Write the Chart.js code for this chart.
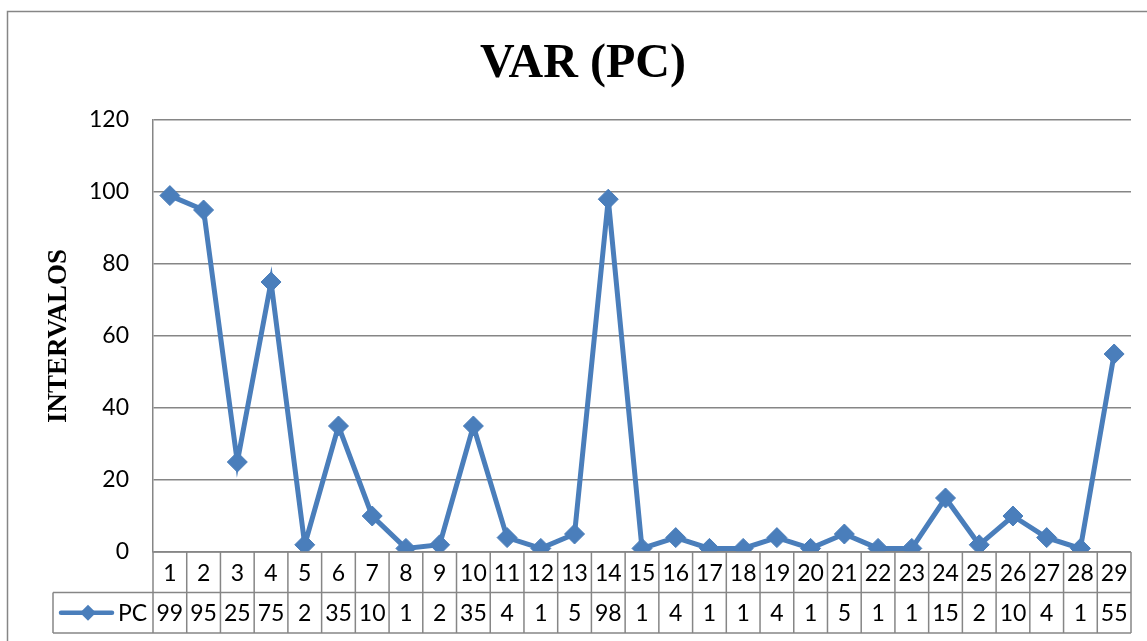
<!DOCTYPE html>
<html>
<head>
<meta charset="utf-8">
<script src="https://cdn.jsdelivr.net/npm/chart.js@4/dist/chart.umd.min.js"></script>
<style>
  html, body { margin: 0; padding: 0; background: #fff; }
  #wrap { width: 1147px; height: 641px; }
</style>
</head>
<body>
<div id="wrap"><canvas id="varChart" width="1147" height="641"></canvas></div>
<script>
// data
const categories = ['1','2','3','4','5','6','7','8','9','10','11','12','13','14','15',
  '16','17','18','19','20','21','22','23','24','25','26','27','28','29'];
const pcValues = [99, 95, 25, 75, 2, 35, 10, 1, 2, 35, 4, 1, 5, 98, 1,
  4, 1, 1, 4, 1, 5, 1, 1, 15, 2, 10, 4, 1, 55];
const seriesName = 'PC';
const chartTitle = 'VAR (PC)';
const yAxisTitle = 'INTERVALOS';
const yTicks = [0, 20, 40, 60, 80, 100, 120];

const lineBlue = '#4A7EBB';
const gridGray = '#868686';
const tickFont = { family: 'Lato', size: 23 };

// outer frame + title (title centred like the original, a bit right of the canvas middle)
const framePlugin = {
  id: 'frame',
  beforeDraw(chart) {
    const ctx = chart.ctx;
    ctx.save();
    ctx.fillStyle = '#fff';
    ctx.fillRect(0, 0, chart.width, chart.height);
    ctx.strokeStyle = gridGray;
    ctx.lineWidth = 1.5;
    ctx.strokeRect(7.5, 11.5, chart.width + 20, chart.height + 20);
    ctx.restore();
  },
  afterDraw(chart) {
    const ctx = chart.ctx;
    ctx.save();
    ctx.fillStyle = '#000';
    ctx.font = 'bold 48px "Liberation Serif"';
    ctx.textAlign = 'center';
    ctx.textBaseline = 'alphabetic';
    ctx.fillText(chartTitle, 583, 77);
    ctx.restore();
  }
};

// data table under the plot, like Excel's
const tablePlugin = {
  id: 'dataTable',
  afterDraw(chart) {
    const ctx = chart.ctx;
    const xs = chart.scales.x;
    const area = chart.chartArea;
    const cellW = (area.right - area.left) / categories.length;
    const rowH = 40.5;
    const y0 = area.bottom;
    const y1 = y0 + rowH;
    const y2 = y1 + rowH;
    const legendLeft = 53;

    ctx.save();
    ctx.strokeStyle = gridGray;
    ctx.lineWidth = 1.5;
    ctx.beginPath();
    ctx.moveTo(area.left, y0); ctx.lineTo(area.right, y0);
    ctx.moveTo(legendLeft, y1); ctx.lineTo(area.right, y1);
    ctx.moveTo(legendLeft, y2); ctx.lineTo(area.right, y2);
    ctx.moveTo(legendLeft, y1); ctx.lineTo(legendLeft, y2);
    for (let i = 0; i <= categories.length; i++) {
      const x = area.left + i * cellW;
      ctx.moveTo(x, y0); ctx.lineTo(x, y2);
    }
    ctx.stroke();

    ctx.fillStyle = '#000';
    ctx.font = '23px Lato';
    ctx.textAlign = 'center';
    ctx.textBaseline = 'middle';
    categories.forEach((c, i) => {
      const x = xs.getPixelForValue(i);
      ctx.fillText(c, x, (y0 + y1) / 2 + 1);
      ctx.fillText(String(pcValues[i]), x, (y1 + y2) / 2 + 1);
    });

    // legend key
    const ly = (y1 + y2) / 2;
    ctx.strokeStyle = lineBlue;
    ctx.lineWidth = 4.5;
    ctx.lineCap = 'round';
    ctx.beginPath();
    ctx.moveTo(61, ly); ctx.lineTo(112, ly);
    ctx.stroke();
    ctx.fillStyle = lineBlue;
    ctx.beginPath();
    ctx.moveTo(88, ly - 8); ctx.lineTo(96, ly); ctx.lineTo(88, ly + 8); ctx.lineTo(80, ly);
    ctx.closePath();
    ctx.fill();
    ctx.fillStyle = '#000';
    ctx.textAlign = 'left';
    ctx.fillText(seriesName, 118, ly + 1);
    ctx.restore();
  }
};

const ctx = document.getElementById('varChart').getContext('2d');
const varChart = new Chart(ctx, {
  type: 'line',
  data: {
    labels: categories,
    datasets: [{
      label: seriesName,
      data: pcValues,
      borderColor: lineBlue,
      backgroundColor: lineBlue,
      borderWidth: 5,
      pointStyle: 'rectRot',
      pointRadius: 10,
      pointBorderWidth: 1,
      pointBackgroundColor: lineBlue,
      pointBorderColor: lineBlue,
      tension: 0
    }]
  },
  options: {
    responsive: false,
    animation: false,
    layout: { padding: { left: 8, top: 120, right: 16, bottom: 0 } },
    plugins: {
      legend: { display: false },
      tooltip: { enabled: false },
      title: { display: false }
    },
    scales: {
      x: {
        offset: true,
        grid: { display: false, drawTicks: false },
        border: { display: false },
        ticks: { display: false },
        afterFit(scale) { scale.height = 89; }
      },
      y: {
        min: yTicks[0],
        max: yTicks[yTicks.length - 1],
        afterBuildTicks(scale) { scale.ticks = yTicks.map(v => ({ value: v })); },
        grid: { color: gridGray, lineWidth: 1.5, drawTicks: false },
        border: { display: true, color: gridGray, width: 1.5 },
        ticks: { color: '#000', font: tickFont, padding: 24 },
        title: {
          display: true,
          text: yAxisTitle,
          color: '#000',
          font: { family: 'Liberation Serif', size: 27, weight: 'bold' },
          padding: { top: 35, bottom: 0 }
        },
        afterFit(scale) { scale.width = 145; }
      }
    }
  },
  plugins: [framePlugin, tablePlugin]
});
</script>
</body>
</html>
